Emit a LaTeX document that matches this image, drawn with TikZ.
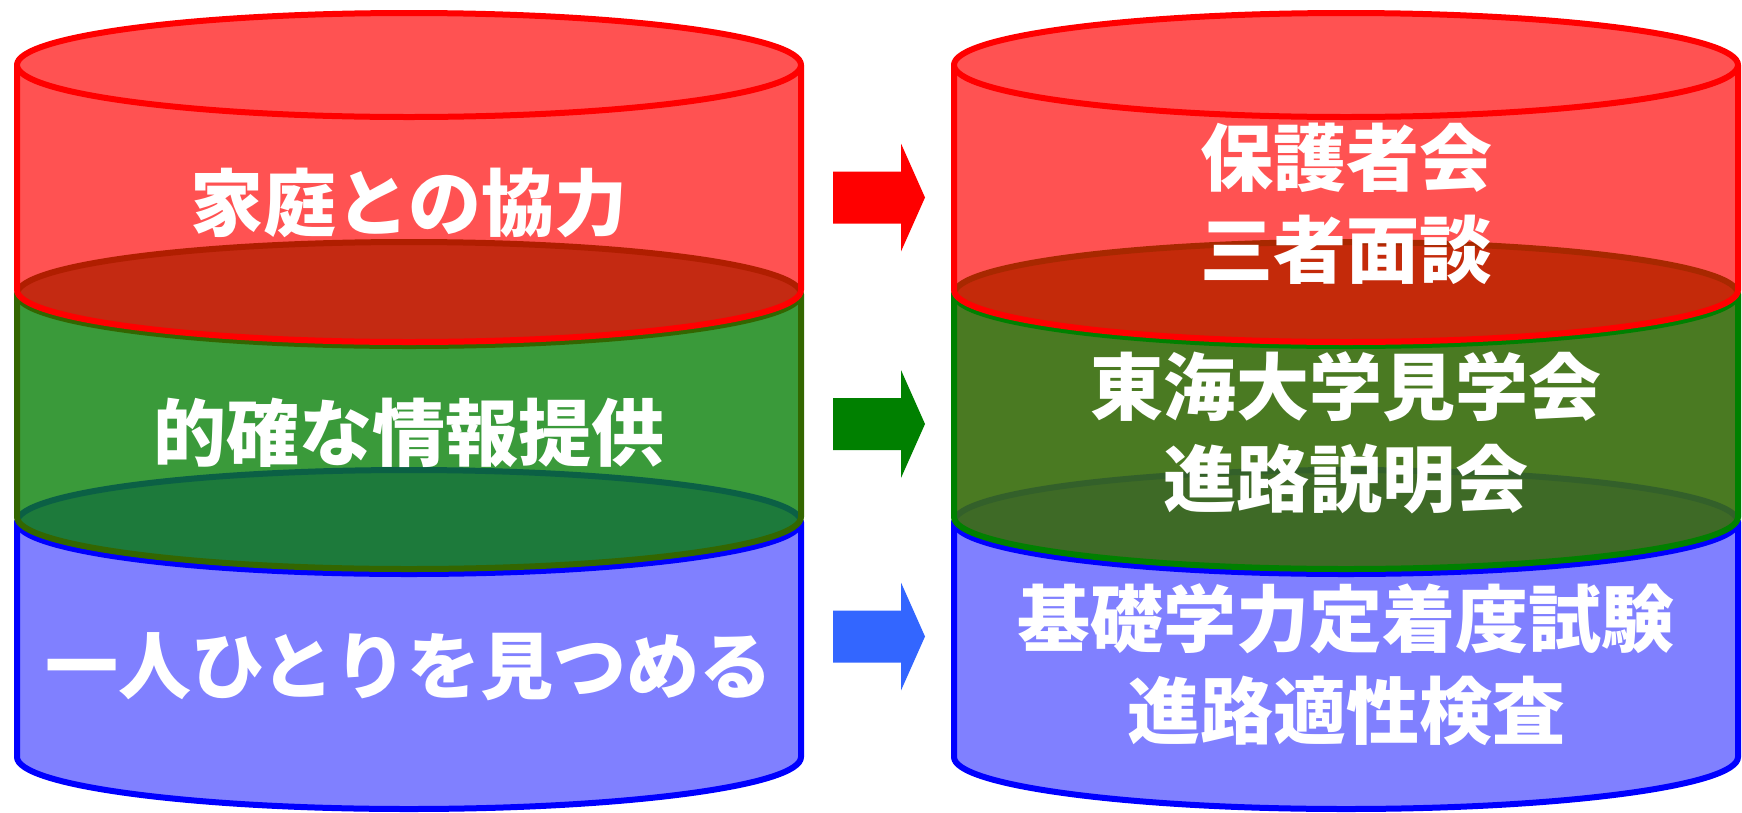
\documentclass[tikz,border=0pt]{standalone}
\usepackage{fontspec}
\newfontfamily\jp{Noto Sans CJK JP}
\definecolor{redBody}{HTML}{FF5252}
\definecolor{redLine}{HTML}{FF0000}
\definecolor{blueBody}{HTML}{8080FF}
\definecolor{blueLine}{HTML}{0000FF}
\definecolor{LgreenBody}{HTML}{3A9A3A}
\definecolor{LgreenLine}{HTML}{336600}
\definecolor{LgreenDark}{HTML}{1D7A3B}
\definecolor{LgreenBand}{HTML}{0B6045}
\definecolor{LredDark}{HTML}{C42A12}
\definecolor{LredBand}{HTML}{B01E00}
\definecolor{RgreenBody}{HTML}{4A7A22}
\definecolor{RgreenLine}{HTML}{008000}
\definecolor{RgreenDark}{HTML}{3E6A26}
\definecolor{RgreenBand}{HTML}{33602A}
\definecolor{RredDark}{HTML}{C42A0A}
\definecolor{RredBand}{HTML}{A82800}
\definecolor{arrRed}{HTML}{FF0000}
\definecolor{arrGreen}{HTML}{008000}
\definecolor{arrBlue}{HTML}{3366FF}
\tikzset{
  outl/.style={line width=6pt, line join=round, line cap=round},
  band/.style={line width=6pt},
  lbl/.style={text=white, font=\jp\bfseries\fontsize{73}{92}\selectfont, align=center, inner sep=0pt},
  blockarrow/.style={draw=none},
}
% #1 = cx, #2 = prefix (L or R)
\newcommand\drawcan[2]{%
  \pgfmathsetmacro\xl{#1-392}\pgfmathsetmacro\xr{#1+392}%
  % blue segment
  \fill[blueBody] (\xl,-522) -- (\xl,-757) arc[start angle=180,end angle=360,x radius=392pt,y radius=52pt] -- (\xr,-522) arc[start angle=0,end angle=180,x radius=392pt,y radius=52pt] -- cycle;
  \draw[outl,blueLine] (\xl,-522) -- (\xl,-757) arc[start angle=180,end angle=360,x radius=392pt,y radius=52pt] -- (\xr,-522);
  \draw[outl,blueLine] (\xl,-522) arc[start angle=180,end angle=360,x radius=392pt,y radius=52pt];
  % green segment
  \fill[#2greenBody] (\xl,-294) -- (\xl,-517) arc[start angle=180,end angle=360,x radius=392pt,y radius=52pt] -- (\xr,-294) arc[start angle=0,end angle=180,x radius=392pt,y radius=52pt] -- cycle;
  \begin{scope}
    \clip (\xl,-294) -- (\xl,-517) arc[start angle=180,end angle=360,x radius=392pt,y radius=52pt] -- (\xr,-294) -- cycle;
    \draw[band,draw=#2greenBand,fill=#2greenDark] (#1,-522) ellipse[x radius=392pt,y radius=52pt];
  \end{scope}
  \draw[outl,#2greenLine] (\xl,-294) -- (\xl,-517) arc[start angle=180,end angle=360,x radius=392pt,y radius=52pt] -- (\xr,-294);
  \draw[outl,#2greenLine] (\xl,-294) arc[start angle=180,end angle=360,x radius=392pt,y radius=52pt];
  % red segment
  \fill[redBody] (\xl,-65) -- (\xl,-290) arc[start angle=180,end angle=360,x radius=392pt,y radius=52pt] -- (\xr,-65) arc[start angle=0,end angle=180,x radius=392pt,y radius=52pt] -- cycle;
  \begin{scope}
    \clip (\xl,-65) -- (\xl,-290) arc[start angle=180,end angle=360,x radius=392pt,y radius=52pt] -- (\xr,-65) -- cycle;
    \draw[band,draw=#2redBand,fill=#2redDark] (#1,-294) ellipse[x radius=392pt,y radius=52pt];
  \end{scope}
  \draw[outl,redLine] (\xl,-65) -- (\xl,-290) arc[start angle=180,end angle=360,x radius=392pt,y radius=52pt] -- (\xr,-65);
  \draw[outl,redLine,fill=redBody] (#1,-65) ellipse[x radius=392pt,y radius=52pt];
}
\newcommand\blkarrow[3]{% #1 colour, #2 tip y, #3 name
  \fill[blockarrow,#1] (833,{#2+26}) -- (901,{#2+26}) -- (901,{#2+54}) -- (925,#2) -- (901,{#2-54}) -- (901,{#2-26}) -- (833,{#2-26}) -- cycle;
  \coordinate (#3) at (879,#2);
}
\begin{document}
\begin{tikzpicture}[x=1pt,y=1pt]
\useasboundingbox (0,0) rectangle (1742,-812);
\drawcan{409}{L}
\drawcan{1346}{R}
\blkarrow{arrRed}{-197.5}{a1}
\blkarrow{arrGreen}{-424}{a2}
\blkarrow{arrBlue}{-636.5}{a3}
\node[lbl] (l1) at (409,-203) {家庭との協力};
\node[lbl] (l2) at (409,-433) {的確な情報提供};
\node[lbl] (l3) at (409,-667) {一人ひとりを見つめる};
\node[lbl] (r1) at (1346,-204) {保護者会\\三者面談};
\node[lbl] (r2) at (1346,-433) {東海大学見学会\\進路説明会};
\node[lbl] (r3) at (1346,-665) {基礎学力定着度試験\\進路適性検査};
\end{tikzpicture}
\end{document}
